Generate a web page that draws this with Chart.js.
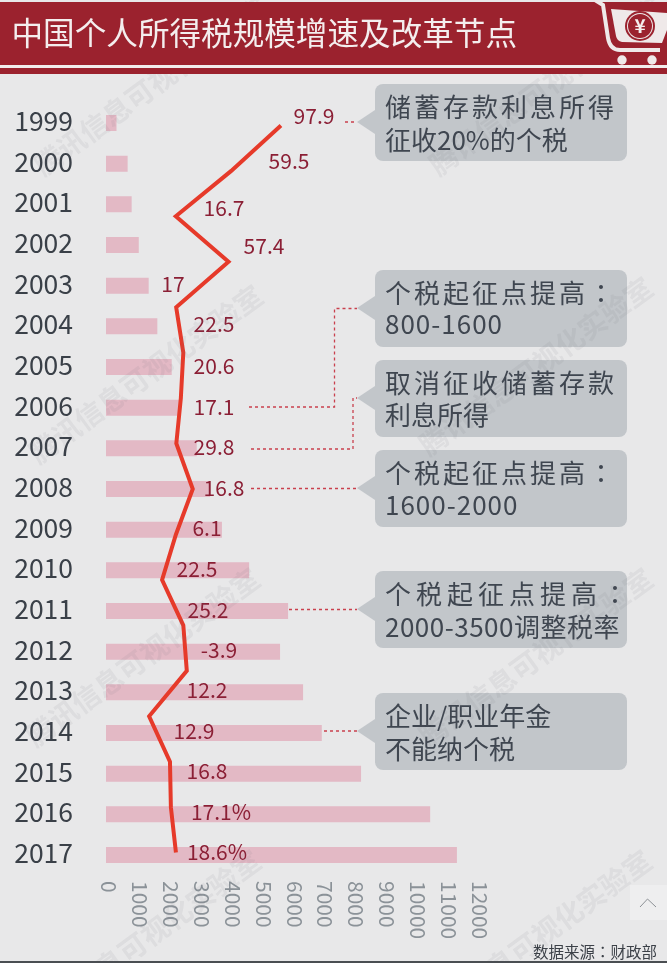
<!DOCTYPE html>
<html>
<head>
<meta charset="utf-8">
<script src="https://cdn.jsdelivr.net/npm/chart.js@4"></script>
<style>
html, body { margin: 0; padding: 0; background: #e8e8e9; }
body { position: relative; width: 667px; height: 963px; overflow: hidden; font-family: "Noto Sans CJK SC", sans-serif; }
canvas { position: absolute; left: 0; top: 0; }
#banner { position: absolute; left: 0; top: 2px; width: 667px; height: 62.5px; background: #9b222e; }
#hairline { position: absolute; left: 0; top: 64.5px; width: 667px; height: 3.5px; background: #f2eded; }
#stripe { position: absolute; left: 0; top: 68px; width: 667px; height: 6px; background: #9b222e; }
#title { position: absolute; left: 11.5px; top: 4px; font-size: 31.6px; line-height: 54px; color: #f4eeee; white-space: nowrap; }
.mark { position: absolute; font-size: 28px; color: rgba(110,110,120,.09); white-space: nowrap; transform: translate(-50%, -50%) rotate(-36deg); font-weight: 700; }
.note { position: absolute; left: 375px; width: 252px; height: 77px; background: #c2c6ca; border-radius: 8px; }
.note::before { content: ""; position: absolute; left: -18px; top: 26px; border-style: solid; border-width: 12px 18px 12px 0; border-color: transparent #c2c6ca transparent transparent; }
.note div { position: absolute; left: 10px; font-size: 26px; line-height: 34px; color: #3f4650; white-space: nowrap; }
.note .l1 { top: 5px; }
.note .l2 { top: 38px; }
.colon { font-family: "Noto Sans CJK TC"; }
#source { position: absolute; left: 533px; top: 940px; font-size: 15.5px; line-height: 22px; color: #3c4148; white-space: nowrap; }
#upbox { position: absolute; left: 630px; top: 885px; width: 37px; height: 35px; background: #eeeeef; }
#bottom { position: absolute; left: 0; top: 961px; width: 667px; height: 2px; background: #4a4e52; }
svg { position: absolute; left: 0; top: 0; }
</style>
</head>
<body>
<canvas id="chart" width="667" height="963"></canvas>

<svg width="667" height="963" fill="none" stroke="#c9404e" stroke-width="1.3" stroke-dasharray="3 3">
    <path d="M345 122 H357"/>
    <path d="M249 407 H334.5 V308.5 H357"/>
    <path d="M251 449 H353 V398 H357"/>
    <path d="M251 488.5 H357"/>
    <path d="M289 609.5 H357"/>
    <path d="M324 731 H357"/>
</svg>

<div class="note" style="top:84px"><div class="l1" style="letter-spacing:3px">储蓄存款利息所得</div><div class="l2">征收20%的个税</div></div>
<div class="note" style="top:269.5px"><div class="l1" style="letter-spacing:3px">个税起征点提高<span class="colon">：</span></div><div class="l2" style="top:36.5px;letter-spacing:1px">800-1600</div></div>
<div class="note" style="top:360px"><div class="l1" style="letter-spacing:3px">取消征收储蓄存款</div><div class="l2" style="top:36.5px">利息所得</div></div>
<div class="note" style="top:450px"><div class="l1" style="letter-spacing:3px">个税起征点提高<span class="colon">：</span></div><div class="l2" style="top:36.5px;letter-spacing:1px">1600-2000</div></div>
<div class="note" style="top:571px"><div class="l1" style="letter-spacing:5px">个税起征点提高<span class="colon">：</span></div><div class="l2" style="letter-spacing:.5px">2000-3500调整税率</div></div>
<div class="note" style="top:693px"><div class="l1">企业/职业年金</div><div class="l2">不能纳个税</div></div>

<div class="mark" style="left:150px;top:85px">腾讯信息可视化实验室</div>
<div class="mark" style="left:545px;top:85px">腾讯信息可视化实验室</div>
<div class="mark" style="left:145px;top:373px">腾讯信息可视化实验室</div>
<div class="mark" style="left:535px;top:365px">腾讯信息可视化实验室</div>
<div class="mark" style="left:142px;top:656px">腾讯信息可视化实验室</div>
<div class="mark" style="left:535px;top:656px">腾讯信息可视化实验室</div>
<div class="mark" style="left:143px;top:938px">腾讯信息可视化实验室</div>
<div class="mark" style="left:534px;top:938px">腾讯信息可视化实验室</div>

<div id="banner"></div>
<div id="hairline"></div>
<div id="stripe"></div>
<div id="title">中国个人所得税规模增速及改革节点</div>
<svg width="667" height="80">
    <path d="M595 0 L603 5 L608 38 Q610 50 620 50 L660 50" fill="none" stroke="#efe9e9" stroke-width="4"/>
    <path d="M611 9 L667 13 L667 30 L662 43 L622 42 Q617 41 616 36 Z" fill="#efe9e9"/>
    <circle cx="640" cy="26" r="15" fill="#9b222e"/>
    <circle cx="640" cy="26" r="13" fill="#efe9e9"/>
    <circle cx="640" cy="26" r="12" fill="#9b222e"/>
    <text x="640" y="33" font-size="19" fill="#f4eeee" text-anchor="middle" font-weight="700">¥</text>
    <circle cx="622" cy="60" r="4.7" fill="#efe9e9"/>
    <circle cx="652" cy="60" r="4.7" fill="#efe9e9"/>
</svg>

<div id="upbox"></div>
<svg width="667" height="963"><path d="M640 907 L647.5 899 L656 907" fill="none" stroke="#8d9196" stroke-width="1"/></svg>
<div id="source">数据来源<span class="colon">：</span>财政部</div>
<div id="bottom"></div>

<script>
const years = ["1999","2000","2001","2002","2003","2004","2005","2006","2007","2008","2009","2010","2011","2012","2013","2014","2015","2016","2017"];
const revenue = [340,700,830,1060,1380,1660,2125,2400,2935,3365,3750,4630,5890,5630,6375,6980,8250,10485,11350];

// the red line only runs through the first 17 years in the original
const lineYears = ["1999","2000","2001","2002","2003","2004","2005","2006","2007","2008","2009","2010","2011","2012","2013","2014","2015"];
const growth = [97.9,59.5,16.7,57.4,17,22.5,20.6,17.1,29.8,16.8,6.1,22.5,25.2,-3.9,12.2,12.9,16.8];

const growthLabels = ["97.9","59.5","16.7","57.4","17","22.5","20.6","17.1","29.8","16.8","6.1","22.5","25.2","-3.9","12.2","12.9","16.8","17.1%","18.6%"];
// center x of each label, placed by hand next to the line
const labelX = [314,289,224,264,173,214,214,214,214,224,207,197,208,219,207,194,207,221,217];
const labelNudge = [-7,-3,4,1,-2,-2,-1,-1,-1,-1,-2,-1,-1,-2,-2,-2,-3,-2,-3];

const xTicks = {min: 0, max: 12000, step: 1000};

const growthLabelPlugin = {
    id: "growthLabels",
    afterDatasetsDraw(chart) {
        const ctx = chart.ctx;
        const y = chart.scales.y;
        ctx.save();
        ctx.font = '21px "Noto Sans CJK SC"';
        ctx.fillStyle = "#8b1f35";
        ctx.textAlign = "center";
        ctx.textBaseline = "middle";
        for(const i in growthLabels) {
            ctx.fillText(growthLabels[i], labelX[i], y.getPixelForValue(Number(i)) + labelNudge[i]);
        }
        ctx.restore();
    }
};

// Chart.js can only turn bottom tick labels the other way, so these are drawn here
const sideTicksPlugin = {
    id: "sideTicks",
    afterDraw(chart) {
        const ctx = chart.ctx;
        const x = chart.scales.x;
        ctx.save();
        ctx.font = '21px "Noto Sans CJK SC"';
        ctx.fillStyle = "#8b9298";
        ctx.textAlign = "left";
        ctx.textBaseline = "middle";
        for(const t of x.ticks) {
            ctx.save();
            ctx.translate(x.getPixelForValue(t.value) + 3, 881);
            ctx.rotate(Math.PI / 2);
            ctx.fillText(String(t.value), 0, 0);
            ctx.restore();
        }
        ctx.restore();
    }
};

new Chart(document.getElementById("chart"), {
    data: {
        labels: years,
        datasets: [
            {
                type: "line",
                label: "增速",
                indexAxis: "y",
                data: growth,
                xAxisID: "xGrowth",
                yAxisID: "yLine",
                borderColor: "#e63a2a",
                borderWidth: 4,
                pointRadius: 0,
                tension: 0,
                order: 1
            },
            {
                type: "bar",
                label: "个人所得税",
                indexAxis: "y",
                data: revenue,
                xAxisID: "x",
                yAxisID: "y",
                backgroundColor: "#e3b9c5",
                grouped: false,
                maxBarThickness: 16,
                order: 2
            }
        ]
    },
    plugins: [growthLabelPlugin, sideTicksPlugin],
    options: {
        responsive: false,
        animation: false,
        layout: { padding: { left: 0, top: 102.7, right: 190, bottom: 87.7 } },
        plugins: { legend: { display: false }, tooltip: { enabled: false } },
        scales: {
            x: {
                type: "linear",
                min: xTicks.min,
                max: xTicks.max,
                grid: { display: false, drawTicks: false },
                border: { display: false },
                ticks: { display: false, stepSize: xTicks.step }
            },
            y: {
                type: "category",
                labels: years,
                offset: true,
                grid: { display: false, drawTicks: false },
                border: { display: false },
                ticks: {
                    color: "#3a4048",
                    padding: 33,
                    autoSkip: false,
                    labelOffset: -2,
                    font: { family: "Noto Sans CJK SC", size: 26.5 }
                },
                afterFit(scale) { scale.width = 106; }
            },
            xGrowth: { type: "linear", display: false, min: -37.2, max: 249.3 },
            yLine: { type: "category", display: false, labels: lineYears, offset: true }
        }
    }
});
</script>
</body>
</html>
